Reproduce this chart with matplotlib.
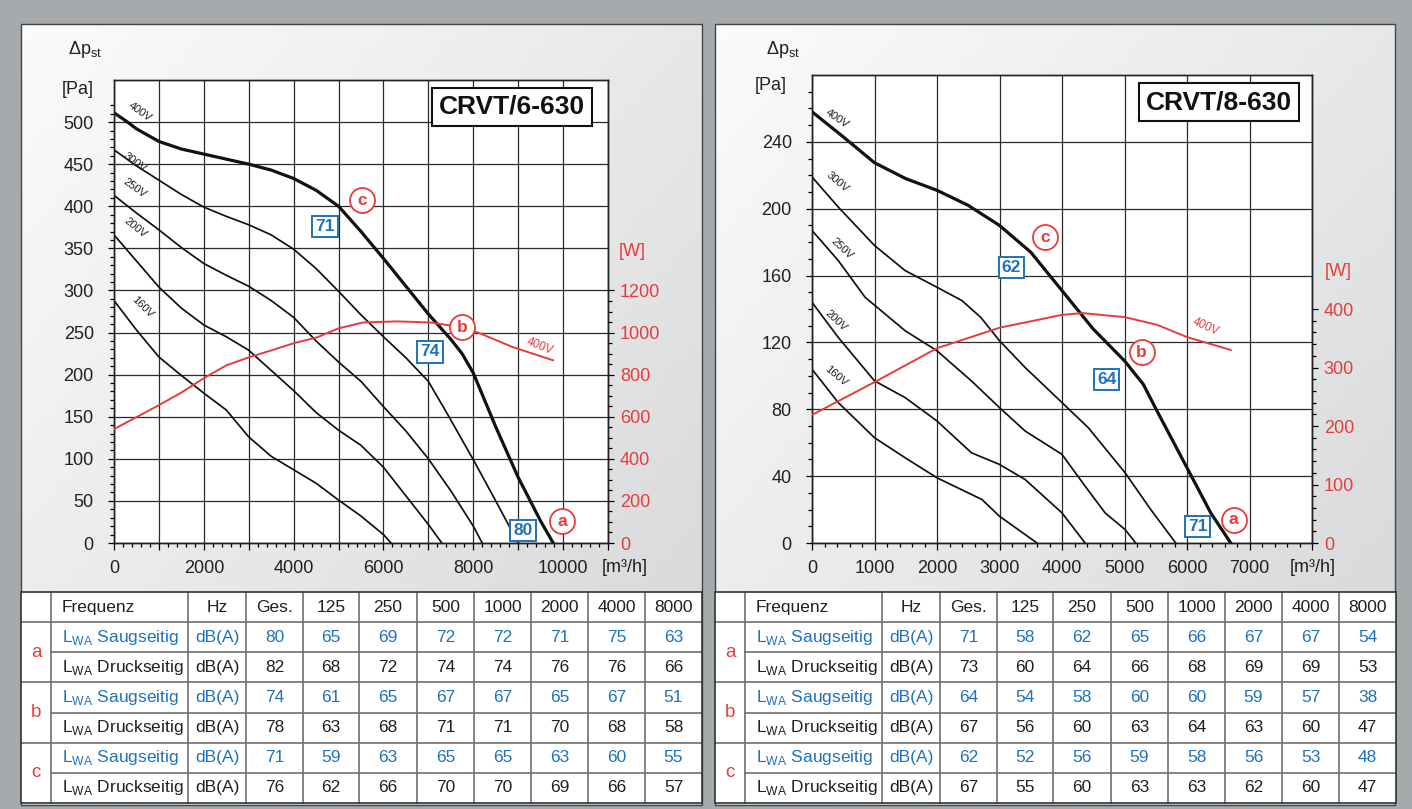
import numpy as np
import matplotlib
matplotlib.use('Agg')
import matplotlib.pyplot as plt
from matplotlib.colors import LinearSegmentedColormap
from matplotlib.patches import Rectangle
from matplotlib.ticker import FixedLocator, FuncFormatter

plt.rcParams['font.family'] = ['Liberation Sans', 'DejaVu Sans']

W, H = 1412, 809
RED = '#e63d3a'
BLUE = '#1f72bb'
INK = '#231f20'

# %% data: CRVT/6-630 (flow m3/h, pressure Pa, power W)
l_400_x = [0, 250, 500, 1000, 1500, 2000, 2500, 3000, 3500, 4000, 4500, 5000, 5500, 6000, 6500,
           7000, 7500, 7750, 8000, 8250, 8500, 8750, 9000, 9500, 9780]
l_400_y = [511, 502, 492, 477, 468, 462, 456, 450, 443, 433, 419, 400, 370, 338, 305,
           272, 242, 225, 202, 170, 138, 108, 78, 26, 0]
l_300_x = [0, 500, 1000, 1500, 2000, 2500, 3000, 3500, 4000, 4500, 5000, 5500, 6000, 6500,
           7000, 7416, 8000, 8500, 9000]
l_300_y = [467, 448, 431, 414, 399, 388, 378, 366, 349, 326, 299, 271, 245, 220,
           192, 154, 99, 50, 0]
l_250_x = [0, 500, 1000, 1500, 2000, 2500, 3000, 3500, 4000, 4500, 5000, 5500, 6000, 6500,
           7000, 7500, 8000, 8200]
l_250_y = [413, 392, 372, 351, 332, 318, 305, 288, 268, 240, 215, 192, 162, 133,
           100, 62, 20, 0]
l_200_x = [0, 500, 1000, 1500, 2000, 2500, 3000, 3500, 4000, 4500, 5000, 5500, 6000, 6500,
           7000, 7300]
l_200_y = [366, 335, 304, 279, 259, 245, 229, 205, 181, 155, 134, 116, 90, 56, 22, 0]
l_160_x = [0, 500, 1000, 1500, 2000, 2500, 3000, 3500, 4000, 4500, 5000, 5500, 6000, 6170]
l_160_y = [288, 253, 221, 199, 178, 158, 126, 103, 87, 71, 51, 32, 10, 0]
l_pow_x = [0, 1000, 1500, 2000, 2500, 3000, 3500, 4000, 4520, 5000, 5550, 6300, 7040, 7750,
           8150, 8890, 9780]
l_pow_w = [541, 655, 715, 783, 844, 882, 915, 949, 977, 1020, 1048, 1053, 1048, 1025,
           996, 930, 868]

# %% data: CRVT/8-630
r_400_x = [0, 500, 1000, 1500, 2000, 2500, 3000, 3500, 4000, 4500, 5000, 5300, 5520, 6000,
           6380, 6700]
r_400_y = [258, 243, 227.5, 218, 211, 202, 190, 174, 151, 128, 109, 95, 79, 45, 18, 0]
r_300_x = [0, 420, 1000, 1490, 2000, 2400, 2700, 3000, 3410, 4000, 4420, 5010, 5420, 5820]
r_300_y = [219, 201, 178, 163, 153, 145, 135, 121, 105, 84, 69, 42, 20, 0]
r_250_x = [0, 420, 850, 1490, 2000, 2550, 3000, 3410, 4000, 4370, 4690, 5010, 5180]
r_250_y = [187, 169, 147, 127, 115, 97, 81, 67, 53, 34, 18, 8, 0]
r_200_x = [0, 420, 1000, 1490, 2000, 2550, 3000, 3410, 4000, 4370]
r_200_y = [144, 123, 97, 87, 73, 54, 47, 38, 18, 0]
r_160_x = [0, 420, 1000, 1490, 2000, 2720, 3000, 3600]
r_160_y = [104, 84, 63, 51, 39, 26, 16, 0]
r_pow_x = [0, 1000, 2000, 3000, 4000, 4330, 5010, 5520, 6000, 6700]
r_pow_w = [219, 275, 333, 368, 390, 393, 386, 373, 352, 330]

voltages = ['400V', '300V', '250V', '200V', '160V']

# operating points a/b/c and sound level boxes
l_points = {'a': (9978, 26), 'b': (7750, 256), 'c': (5523, 407)}
l_boxes = {'80': (9109, 15), '74': (7038, 227), '71': (4700, 376)}
r_points = {'a': (6747, 14), 'b': (5272, 114), 'c': (3734, 183)}
r_boxes = {'71': (6170, 10), '64': (4712, 98), '62': (3189, 165)}

# %% table data
freq_head = ['Frequenz', 'Hz', 'Ges.', '125', '250', '500', '1000', '2000', '4000', '8000']
groups = ['a', 'b', 'c']
l_saug = [[80, 65, 69, 72, 72, 71, 75, 63],
          [74, 61, 65, 67, 67, 65, 67, 51],
          [71, 59, 63, 65, 65, 63, 60, 55]]
l_druck = [[82, 68, 72, 74, 74, 76, 76, 66],
           [78, 63, 68, 71, 71, 70, 68, 58],
           [76, 62, 66, 70, 70, 69, 66, 57]]
r_saug = [[71, 58, 62, 65, 66, 67, 67, 54],
          [64, 54, 58, 60, 60, 59, 57, 38],
          [62, 52, 56, 59, 58, 56, 53, 48]]
r_druck = [[73, 60, 64, 66, 68, 69, 69, 53],
           [67, 56, 60, 63, 64, 63, 60, 47],
           [67, 55, 60, 63, 63, 62, 60, 47]]


def fx(px):
    return px / W


def fy(py):
    return 1 - py / H


fig = plt.figure(figsize=(W / 100, H / 100), dpi=100, facecolor='#a6aaad')
bg = fig.add_axes([0, 0, 1, 1])
bg.axis('off')

# panels with light gradient
grad = np.add.outer(np.linspace(0, 1, 60), np.linspace(0, 1, 60)) / 2
pcmap = LinearSegmentedColormap.from_list('panel', ['#fbfbfb', '#d4d5d7'])
for x0, x1 in [(21, 702), (715, 1395)]:
    bg.imshow(grad, cmap=pcmap, extent=(x0, x1, 805, 24), aspect='auto', zorder=1)
    bg.add_patch(Rectangle((x0, 24), x1 - x0, 781, fill=False, ec='#444444', lw=1, zorder=2))
bg.set_xlim(0, W)
bg.set_ylim(H, 0)


# %% tables
def draw_table(x0, saug, druck):
    widths = [30, 137, 58, 57, 56, 58, 57, 57, 57, 57, 57]
    xs = np.concatenate([[x0], x0 + np.cumsum(widths)])
    y0, rh = 592, 30.15
    ys = y0 + rh * np.arange(8)
    bg.add_patch(Rectangle((xs[0], ys[0]), xs[-1] - xs[0], ys[-1] - ys[0],
                           fc='white', ec='none', zorder=3))
    lc = '#6e6e6e'
    for x in xs[1:-1]:
        bg.plot([x, x], [ys[0], ys[-1]], color=lc, lw=1.2, zorder=4)
    for i, y in enumerate(ys[1:-1], start=1):
        xa = xs[0] if i in (1, 3, 5) else xs[1]
        bg.plot([xa, xs[-1]], [y, y], color=lc, lw=1.2, zorder=4)
    bg.add_patch(Rectangle((xs[0], ys[0]), xs[-1] - xs[0], ys[-1] - ys[0],
                           fill=False, ec='#333333', lw=1.2, zorder=5))
    fs = 12.5
    ty = ys[0] + rh / 2
    bg.text(xs[1] + 11, ty, freq_head[0], fontsize=fs, color=INK, ha='left', va='center', zorder=6)
    for j, h in enumerate(freq_head[1:]):
        bg.text((xs[j + 2] + xs[j + 3]) / 2, ty, h, fontsize=fs, color=INK,
                ha='center', va='center', zorder=6)
    for g in range(3):
        for k, (vals, name, col) in enumerate([(saug[g], 'Saugseitig', BLUE),
                                                (druck[g], 'Druckseitig', INK)]):
            r = 1 + 2 * g + k
            cy = ys[r] + rh / 2
            bg.text(xs[1] + 11, cy, r'L$_\mathregular{WA}$' + ' ' + name, fontsize=fs,
                    color=col, ha='left', va='center', zorder=6)
            bg.text((xs[2] + xs[3]) / 2, cy, 'dB(A)', fontsize=fs, color=col,
                    ha='center', va='center', zorder=6)
            for j, v in enumerate(vals):
                bg.text((xs[j + 3] + xs[j + 4]) / 2, cy, str(v), fontsize=fs, color=col,
                        ha='center', va='center', zorder=6)
        bg.text((xs[0] + xs[1]) / 2, ys[1 + 2 * g + 1], groups[g], fontsize=fs + 1,
                color=RED, ha='center', va='center', zorder=6)


draw_table(21, l_saug, l_druck)
draw_table(715, r_saug, r_druck)


# %% charts
def draw_chart(box, xmax, xlabels_every, ymax, ystep, ytop_minor, wmax, wtop, wstep, wminor,
               curves, vlabels, pow_x, pow_w, pow_label, points, boxes, title, title_xy):
    x0, y0, x1, y1 = box
    ax = fig.add_axes([fx(x0), fy(y1), fx(x1 - x0), (y1 - y0) / H])
    ax.set_facecolor('white')
    ax.set_xlim(0, xmax)
    ax.set_ylim(0, ymax)
    ax.set_axisbelow(True)
    ax.grid(True, which='major', color='#2a2a2a', lw=0.9)

    for (xs, ys), v in zip(curves, voltages):
        ax.plot(xs, ys, color='#111111', lw=2.3 if v == '400V' else 1.25,
                solid_joinstyle='round', zorder=3)
    for (tx, ty, rot), v in zip(vlabels, voltages):
        ax.text(tx, ty, v, fontsize=8, rotation=rot, color=INK,
                ha='center', va='center', zorder=4)

    ax.set_xticks(np.arange(0, xmax + 1, 1000))
    ax.xaxis.set_minor_locator(FixedLocator(np.arange(0, xmax + 1, 200)))
    ax.xaxis.set_major_formatter(FuncFormatter(
        lambda v, p: '%d' % v if int(round(v)) % xlabels_every == 0 and v < xmax else ''))
    ax.set_yticks(np.arange(0, ymax, ystep))
    ax.yaxis.set_minor_locator(FixedLocator(np.arange(0, ytop_minor + 1, 10)))
    ax.tick_params(axis='x', which='major', length=5, width=0.9, pad=7, labelsize=13,
                   labelcolor=INK, direction='out')
    ax.tick_params(axis='x', which='minor', length=2.8, width=0.9, direction='out')
    ax.tick_params(axis='y', which='major', length=4.5, width=0.9, pad=10, labelsize=13,
                   labelcolor=INK, direction='out')
    ax.tick_params(axis='y', which='minor', length=3, width=0.9, direction='out')
    for s in ax.spines.values():
        s.set_color('#222222')
        s.set_linewidth(1.0)

    ax2 = ax.twinx()
    ax2.set_ylim(0, wmax)
    ax2.plot(pow_x, pow_w, color=RED, lw=1.4, solid_joinstyle='round', zorder=3)
    ax2.set_yticks(np.arange(0, wtop + 1, wstep))
    ax2.yaxis.set_minor_locator(FixedLocator(np.arange(0, wtop + 1, wminor)))
    ax2.tick_params(axis='y', which='major', length=4.5, width=0.9, pad=4, labelsize=13,
                    labelcolor=RED, direction='out')
    ax2.tick_params(axis='y', which='minor', length=3, width=0.9, direction='out')
    for s in ax2.spines.values():
        s.set_color('#222222')
        s.set_linewidth(1.0)
    tx, ty, rot = pow_label
    ax2.text(tx, ty, '400V', transform=ax.transData, fontsize=8.5, rotation=rot,
             color=RED, ha='center', va='center', zorder=4)

    for k, (px, py) in points.items():
        ax2.plot(px, py, 'o', ms=18, mfc='white', mec=RED, mew=1.3,
                 transform=ax.transData, zorder=5)
        ax2.text(px, py, k, transform=ax.transData, fontsize=12.5, fontweight='bold',
                 color=RED, ha='center', va='center', zorder=6)
    for k, (px, py) in boxes.items():
        ax2.text(px, py, k, transform=ax.transData, fontsize=12.5, fontweight='bold',
                 color=BLUE, ha='center', va='center', zorder=6,
                 bbox=dict(boxstyle='square,pad=0.18', fc='white', ec=BLUE, lw=1.4))

    fig.text(fx(title_xy[0]), fy(title_xy[1]), title, fontsize=19, fontweight='bold',
             color='#111111', ha='center', va='center', zorder=10,
             bbox=dict(boxstyle='square,pad=0.27', fc='white', ec='#111111', lw=1.5))
    return ax


draw_chart((114, 80, 608, 543), 11000, 2000, 550, 50, 520, 2200, 1200, 200, 50,
           [(l_400_x, l_400_y), (l_300_x, l_300_y), (l_250_x, l_250_y),
            (l_200_x, l_200_y), (l_160_x, l_160_y)],
           [(590, 512, -35), (450, 452, -37), (470, 421, -36), (470, 374, -39), (640, 280, -45)],
           l_pow_x, l_pow_w, (9488, 233, -22), l_points, l_boxes, 'CRVT/6-630', (512, 107))

draw_chart((812, 75, 1312, 543), 8000, 1000, 280, 40, 270, 800, 400, 100, 20,
           [(r_400_x, r_400_y), (r_300_x, r_300_y), (r_250_x, r_250_y),
            (r_200_x, r_200_y), (r_160_x, r_160_y)],
           [(400, 254, -34), (400, 216, -40), (480, 176, -43), (380, 133, -43), (380, 100, -40)],
           r_pow_x, r_pow_w, (6298, 129, -24), r_points, r_boxes, 'CRVT/8-630', (1219, 102))

# axis captions
for x_dp, x_pa, y_pa, x_w, y_w, x_m in [(85, 78, 90, 632, 251, 625),
                                         (783, 771, 85, 1338, 272, 1313)]:
    fig.text(fx(x_dp), fy(50), r'Δp$_\mathregular{st}$', fontsize=13, color=INK,
             ha='center', va='center')
    fig.text(fx(x_pa), fy(y_pa), '[Pa]', fontsize=13, color=INK, ha='center', va='center')
    fig.text(fx(x_w), fy(y_w), '[W]', fontsize=13, color=RED, ha='center', va='center')
    fig.text(fx(x_m), fy(567), '[m³/h]', fontsize=13, color=INK, ha='center', va='center')

fig.savefig('out.png', dpi=100, facecolor=fig.get_facecolor())
